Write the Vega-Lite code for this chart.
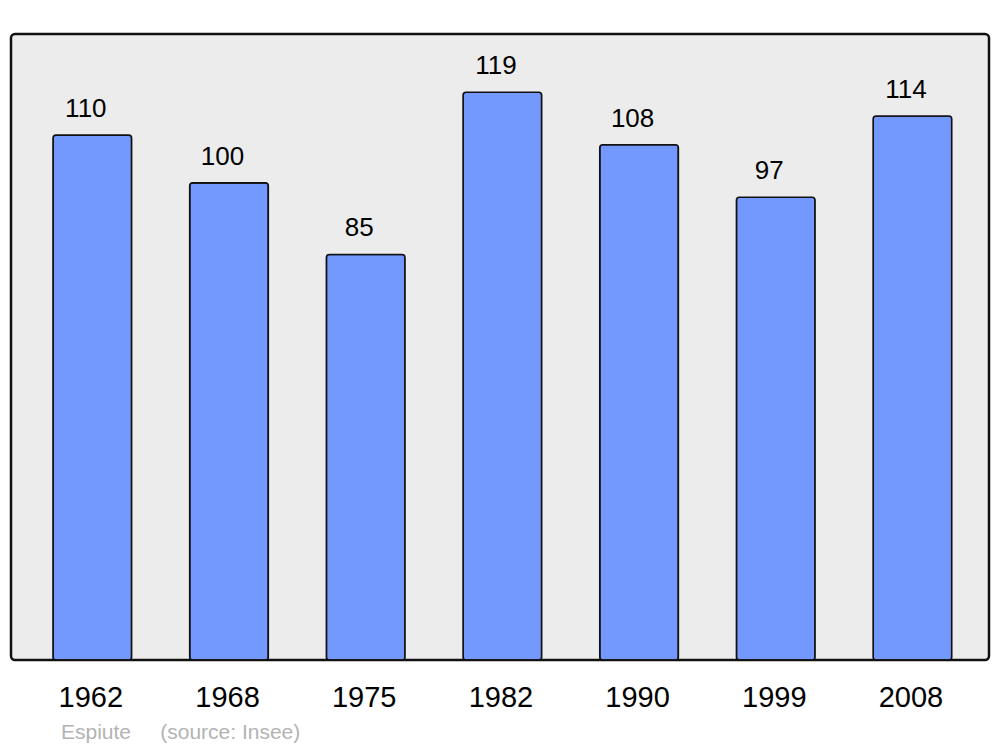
{
  "$schema": "https://vega.github.io/schema/vega-lite/v6.json",
  "width": 978,
  "height": 626,
  "autosize": {"type": "none"},
  "padding": {"left": 11, "top": 34, "right": 11, "bottom": 87},
  "background": "white",
  "config": {
    "font": "Liberation Sans",
    "view": {"fill": "#ececec", "stroke": "#111111", "strokeWidth": 2.5, "cornerRadius": 4}
  },
  "title": {
    "text": "Espiute\u00a0\u00a0\u00a0\u00a0\u00a0(source: Insee)",
    "orient": "bottom",
    "anchor": "start",
    "frame": "group",
    "dx": 50,
    "offset": 10,
    "fontSize": 21,
    "fontWeight": "normal",
    "color": "#b3b3b3",
    "font": "Liberation Sans"
  },
  "data": {
    "values": [
      {"year": "1962", "pop": 110},
      {"year": "1968", "pop": 100},
      {"year": "1975", "pop": 85},
      {"year": "1982", "pop": 119},
      {"year": "1990", "pop": 108},
      {"year": "1999", "pop": 97},
      {"year": "2008", "pop": 114}
    ]
  },
  "encoding": {
    "x": {
      "field": "year",
      "type": "nominal",
      "sort": null,
      "scale": {"paddingInner": 0.425, "paddingOuter": 0.29, "align": 0.53},
      "axis": {
        "title": null,
        "domain": false,
        "ticks": false,
        "tickSize": 0,
        "labelAngle": 0,
        "labelFontSize": 29,
        "labelColor": "black",
        "labelBaseline": "alphabetic",
        "labelPadding": 46,
        "labelOffset": -1.5,
        "grid": false
      }
    },
    "y": {
      "field": "pop",
      "type": "quantitative",
      "scale": {"domain": [0, 131.2], "nice": false, "zero": true},
      "axis": null
    }
  },
  "layer": [
    {
      "mark": {"type": "bar", "color": "#7399ff", "stroke": "#111111", "strokeWidth": 1.6, "cornerRadius": 3}
    },
    {
      "mark": {"type": "text", "baseline": "alphabetic", "dy": -18, "dx": -6.5, "fontSize": 26, "color": "black"},
      "encoding": {"text": {"field": "pop", "type": "quantitative"}}
    }
  ]
}
